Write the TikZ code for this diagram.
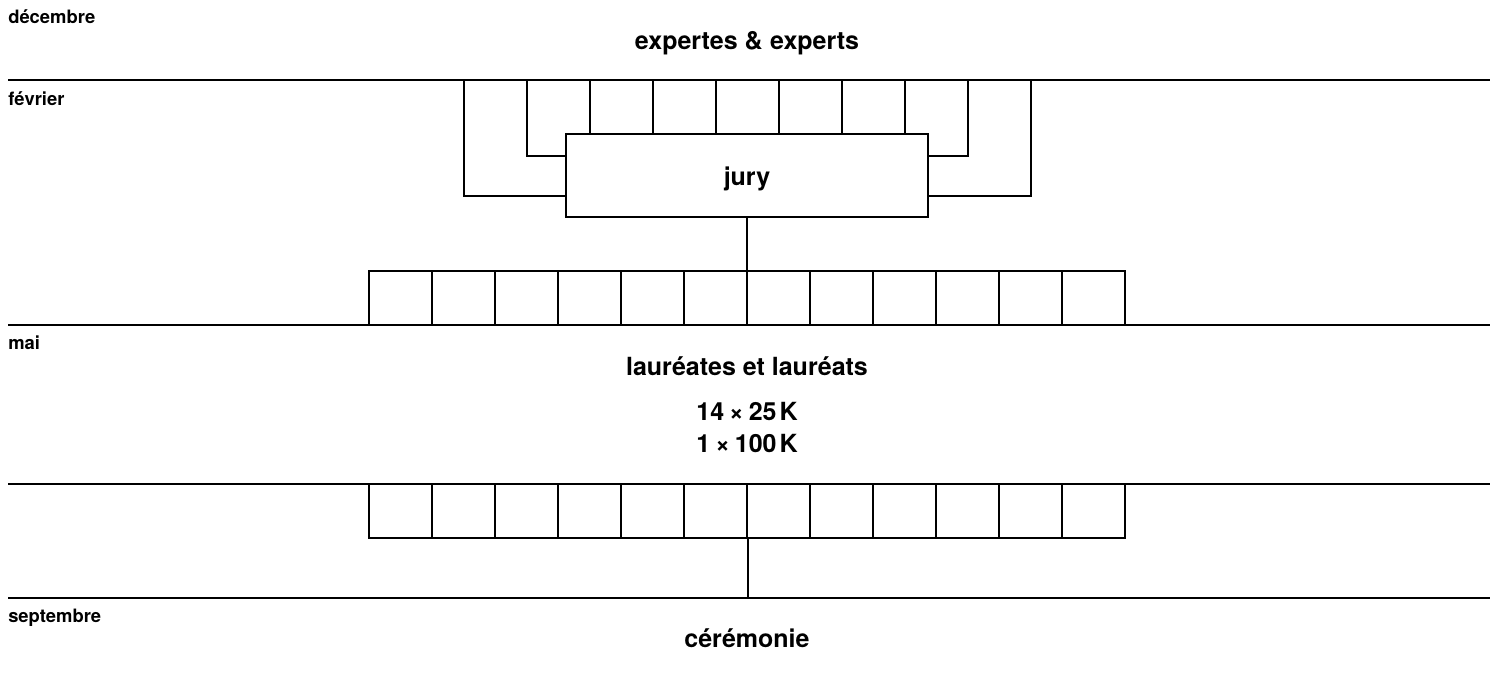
\documentclass[tikz,border=0pt]{standalone}
\usepackage{fontspec}
\setmainfont{TeX Gyre Heros}
\begin{document}
\begin{tikzpicture}[x=0.75pt,y=-0.75pt,
  rule/.style={line width=1.9pt},
  link/.style={line width=1.5pt},
  cell/.style={draw,line width=1.5pt,rectangle,inner sep=0pt,
    minimum width=47.25pt,minimum height=40.5pt},
  month/.style={anchor=base west,inner sep=0pt,font=\bfseries\fontsize{13.8pt}{16pt}\selectfont},
  title/.style={anchor=base,inner sep=0pt,font=\bfseries\fontsize{18.75pt}{22pt}\selectfont}]
\useasboundingbox (0,0) rectangle (1497,672);

% time rules
\foreach \n/\y in {a/80,b/325,c/484,d/598}{
  \coordinate (\n0) at (8,\y);
  \coordinate (\n1) at (1490,\y);
  \draw[rule] (\n0) -- (\n1);
}

% month labels
\node[month] (dec) at (8,23) {décembre};
\node[month] (feb) at (8,105) {février};
\node[month] (may) at (8,349) {mai};
\node[month] (sep) at (8,622) {septembre};

% headings
\node[title] (experts) at (747,49) {expertes \&\hspace{0.02em} experts};
\node[title] (laureates) at (747,375) {lauréates et lauréats};
\node[title] (prize1) at (747,420) {14\hspace{0.2em}×\hspace{0.2em}25\hspace{0.12em}K};
\node[title] (prize2) at (747,452) {1\hspace{0.2em}×\hspace{0.2em}100\hspace{0.12em}K};
\node[title] (ceremony) at (747,647) {cérémonie};

% jury (text height set so the baseline sits below the box centre)
\node[draw,link,rectangle,inner sep=0pt,minimum width=271.5pt,minimum height=62.25pt,
  text height=15.75pt,text depth=0pt,
  font=\bfseries\fontsize{18.75pt}{22pt}\selectfont] (jury) at (747,175) {jury};

% experts feeding the jury
\coordinate (inner) at (0,156);
\coordinate (outer) at (0,196);
\foreach \i in {0,...,9}{
  \coordinate (e\i) at ({463.5+63*\i},80);
}
\draw[link] (e0) |- (jury.west |- outer);
\draw[link] (e9) |- (jury.east |- outer);
\draw[link] (e1) |- (jury.west |- inner);
\draw[link] (e8) |- (jury.east |- inner);
\foreach \i in {2,...,7}{
  \draw[link] (e\i) -- (e\i |- jury.north);
}

% nominees, centred on the jury
\foreach \k in {1,...,12}{
  \node[cell] (r\k) at ({747+63*(\k-6.5)},298) {};
}
\draw[link] (jury.south) -- (jury.south |- r6.north);

% laureates
\foreach \k in {1,...,12}{
  \node[cell] (s\k) at ({747+63*(\k-6.5)},511) {};
}
\draw[link] (s6.south east) -- (s6.south east |- d0);
\end{tikzpicture}
\end{document}
